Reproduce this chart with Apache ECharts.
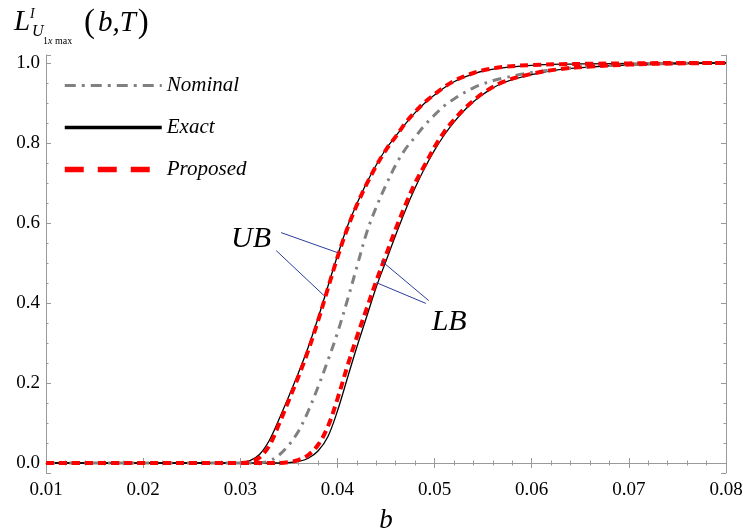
<!DOCTYPE html>
<html>
<head>
<meta charset="utf-8">
<script src="https://cdn.jsdelivr.net/npm/echarts@6/dist/echarts.min.js"></script>
<style>
  html, body { margin: 0; padding: 0; background: #fff; }
  #chart { width: 743px; height: 531px; }
</style>
</head>
<body>
<div id="chart"></div>
<script>
// b values shared by every curve
const bValues = [0.010, 0.020, 0.028, 0.030, 0.031, 0.032, 0.033, 0.034, 0.035, 0.036,
  0.037, 0.038, 0.039, 0.040, 0.041, 0.042, 0.043, 0.044, 0.045, 0.046,
  0.047, 0.048, 0.049, 0.050, 0.051, 0.052, 0.053, 0.054, 0.055, 0.057,
  0.060, 0.063, 0.066, 0.070, 0.075, 0.080]

const exactUB = [0, 0, 0, 0.001, 0.006, 0.022, 0.057, 0.11, 0.167, 0.226,
  0.29, 0.362, 0.44, 0.518, 0.59, 0.648, 0.70, 0.745, 0.785, 0.817,
  0.848, 0.876, 0.90, 0.92, 0.938, 0.953, 0.964, 0.973, 0.98, 0.988,
  0.994, 0.997, 0.998, 0.999, 1.0, 1.0]

const proposedUB = [0, 0, 0, 0, 0.003, 0.014, 0.044, 0.098, 0.157, 0.217,
  0.282, 0.355, 0.435, 0.514, 0.585, 0.645, 0.697, 0.743, 0.783, 0.816,
  0.85, 0.878, 0.902, 0.922, 0.94, 0.955, 0.966, 0.975, 0.982, 0.99,
  0.995, 0.997, 0.998, 0.999, 1.0, 1.0]

const nominal = [0, 0, 0, 0, 0, 0.001, 0.005, 0.02, 0.045, 0.08,
  0.13, 0.19, 0.255, 0.325, 0.405, 0.49, 0.575, 0.64, 0.695, 0.745,
  0.785, 0.815, 0.845, 0.87, 0.893, 0.91, 0.925, 0.938, 0.948, 0.962,
  0.976, 0.985, 0.991, 0.996, 0.999, 1.0]

const proposedLB = [0, 0, 0, 0, 0, 0, 0, 0, 0.002, 0.008,
  0.02, 0.045, 0.09, 0.16, 0.24, 0.315, 0.385, 0.455, 0.52, 0.585,
  0.645, 0.70, 0.745, 0.79, 0.828, 0.858, 0.884, 0.906, 0.925, 0.952,
  0.973, 0.985, 0.991, 0.996, 0.999, 1.0]

const exactLB = [0, 0, 0, 0, 0, 0, 0, 0, 0.001, 0.004,
  0.012, 0.03, 0.065, 0.13, 0.21, 0.29, 0.365, 0.44, 0.505, 0.57,
  0.632, 0.688, 0.738, 0.782, 0.82, 0.852, 0.88, 0.903, 0.922, 0.95,
  0.971, 0.984, 0.99, 0.995, 0.998, 1.0]

const xTicks = [0.01, 0.02, 0.03, 0.04, 0.05, 0.06, 0.07, 0.08]
const yTicks = [0.0, 0.2, 0.4, 0.6, 0.8, 1.0]

// pointer lines for the UB / LB labels, in data coordinates
const ubPointers = [
  [[0.0342, 0.576], [0.0400, 0.526]],
  [[0.0337, 0.531], [0.0386, 0.419]]
]
const lbPointers = [
  [[0.0445, 0.506], [0.0494, 0.406]],
  [[0.0440, 0.451], [0.0491, 0.399]]
]
const ubLabelAt = [0.0311, 0.559]
const lbLabelAt = [0.0515, 0.352]

const SERIF = '"Liberation Serif", "DejaVu Serif", serif'
const FRAME = '#9a9a9a'
const RED = '#ff0000'
const GRAY = '#808080'
const NAVY = '#2b3d9c'

const pairs = (ys) => bValues.map((b, i) => [b, ys[i]])

const chart = echarts.init(document.getElementById('chart'), null, { renderer: 'canvas' })

const axisCommon = {
  axisLine: { show: true, lineStyle: { color: FRAME, width: 1 } },
  axisTick: { show: true, inside: true, length: 5, lineStyle: { color: FRAME } },
  minorTick: { show: true, splitNumber: 5, length: 2.5, lineStyle: { color: FRAME } },
  splitLine: { show: false }
}

const labelText = {
  color: '#000',
  fontFamily: SERIF,
  fontSize: 19
}

const curve = (name, ys, color, style, z) => ({
  name,
  type: 'line',
  data: pairs(ys),
  showSymbol: false,
  symbol: 'none',
  smooth: 0.35,
  itemStyle: { color },
  lineStyle: { color, ...style },
  z,
  silent: true
})

const pointerLines = (list) => list.map(([a, b]) => [{ coord: a }, { coord: b }])
const noMarker = { color: 'transparent', borderWidth: 0, opacity: 0 }

const option = {
  animation: false,
  backgroundColor: '#fff',
  grid: { left: 46, right: 17, top: 55, bottom: 58, show: false, containLabel: false, outerBoundsMode: 'none' },
  legend: {
    orient: 'vertical',
    left: 62,
    top: 75,
    padding: 0,
    itemWidth: 97,
    itemHeight: 20,
    itemGap: 21,
    selectedMode: false,
    textStyle: { color: '#000', fontFamily: SERIF, fontStyle: 'italic', fontSize: 21 },
    data: [
      { name: 'Nominal', itemStyle: noMarker, lineStyle: { color: GRAY, width: 3, type: [11, 6, 3, 6] } },
      { name: 'Exact', itemStyle: noMarker, lineStyle: { color: '#000', width: 3.5, type: 'solid' } },
      { name: 'Proposed', itemStyle: noMarker, lineStyle: { color: RED, width: 5.5, type: [19, 14] } }
    ]
  },
  xAxis: [
    {
      type: 'value',
      min: 0.01,
      max: 0.08,
      interval: 0.01,
      ...axisCommon,
      axisLabel: {
        ...labelText,
        margin: 8,
        formatter: (v) => xTicks.some(t => Math.abs(t - v) < 1e-6) ? v.toFixed(2) : ''
      },
      name: 'b',
      nameLocation: 'middle',
      nameGap: 34,
      nameTextStyle: { color: '#000', fontFamily: SERIF, fontStyle: 'italic', fontSize: 27 }
    },
    {
      type: 'value',
      position: 'top',
      min: 0.01,
      max: 0.08,
      interval: 0.01,
      ...axisCommon,
      axisLabel: { show: false }
    }
  ],
  yAxis: [
    {
      type: 'value',
      min: -0.025,
      max: 1.02,
      splitNumber: 5,
      ...axisCommon,
      minorTick: { show: true, splitNumber: 4, length: 2.5, lineStyle: { color: FRAME } },
      axisLabel: {
        ...labelText,
        margin: 6,
        showMinLabel: false,
        showMaxLabel: false,
        formatter: (v) => yTicks.some(t => Math.abs(t - v) < 1e-6) ? v.toFixed(1) : ''
      }
    },
    {
      type: 'value',
      position: 'right',
      min: -0.025,
      max: 1.02,
      splitNumber: 5,
      ...axisCommon,
      minorTick: { show: true, splitNumber: 4, length: 2.5, lineStyle: { color: FRAME } },
      axisLabel: { show: false }
    }
  ],
  series: [
    curve('Exact', exactUB, '#000', { width: 1.3, type: 'solid' }, 2),
    curve('Exact', exactLB, '#000', { width: 1.3, type: 'solid' }, 2),
    {
      ...curve('Nominal', nominal, GRAY, { width: 3, type: [9, 6, 2.5, 6] }, 3),
      markLine: {
        silent: true,
        symbol: ['none', 'none'],
        label: { show: false },
        lineStyle: { color: NAVY, width: 1, type: 'solid' },
        data: pointerLines(ubPointers).concat(pointerLines(lbPointers))
      },
      markPoint: {
        silent: true,
        symbol: 'circle',
        symbolSize: 0,
        label: {
          show: true,
          position: 'inside',
          color: '#000',
          fontFamily: SERIF,
          fontStyle: 'italic',
          fontSize: 30
        },
        data: [
          { coord: ubLabelAt, label: { formatter: 'UB' } },
          { coord: lbLabelAt, label: { formatter: 'LB' } }
        ]
      }
    },
    curve('Proposed', proposedUB, RED, { width: 4, type: [8, 5] }, 4),
    curve('Proposed', proposedLB, RED, { width: 4, type: [8, 5] }, 4)
  ],
  graphic: [
    { type: 'text', left: 14, top: 8, style: { text: 'L', font: 'italic 29px ' + SERIF, fill: '#000' } },
    { type: 'text', left: 30, top: 7, style: { text: 'I', font: 'italic 14px ' + SERIF, fill: '#000' } },
    { type: 'text', left: 32, top: 24, style: { text: 'U', font: 'italic 16px ' + SERIF, fill: '#000' } },
    {
      type: 'text', left: 43, top: 36,
      style: {
        text: '{n|1}{i|x}{n| max}',
        rich: {
          n: { font: '10px ' + SERIF, fill: '#000' },
          i: { font: 'italic 10px ' + SERIF, fill: '#000' }
        }
      }
    },
    {
      type: 'text', left: 84, top: 7,
      style: {
        text: '{p|(}{i|b,T}{p|)}',
        rich: {
          p: { font: '33px ' + SERIF, fill: '#000' },
          i: { font: 'italic 29px ' + SERIF, fill: '#000', padding: [0, 2, 0, 3] }
        }
      }
    }
  ]
}

chart.setOption(option)
window.addEventListener('resize', () => chart.resize())
</script>
</body>
</html>
